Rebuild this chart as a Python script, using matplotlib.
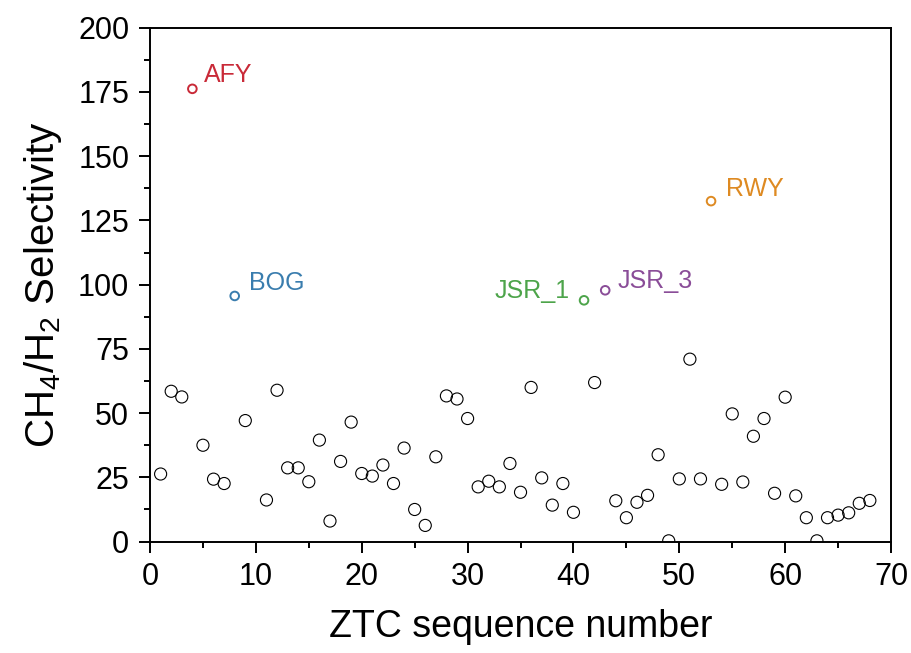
import matplotlib
matplotlib.use('Agg')
import matplotlib.pyplot as plt

plt.rcParams['font.family'] = ['Liberation Sans', 'DejaVu Sans']
plt.rcParams['mathtext.fontset'] = 'custom'
plt.rcParams['mathtext.rm'] = 'Liberation Sans'
plt.rcParams['mathtext.it'] = 'Liberation Sans'

# ── data ──────────────────────────────────────────────────────────
seq = [1, 2, 3, 5, 6, 7, 9, 11, 12, 13, 14, 15, 16, 17, 18, 19, 20,
       21, 22, 23, 24, 25, 26, 27, 28, 29, 30, 31, 32, 33, 34, 35, 36,
       37, 38, 39, 40, 42, 44, 45, 46, 47, 48, 49, 50, 51, 52, 54, 55,
       56, 57, 58, 59, 60, 61, 62, 63, 64, 65, 66, 67, 68]
selectivity = [26.3, 58.5, 56.3, 37.5, 24.3, 22.6, 47.1, 16.2, 58.9, 28.7,
               28.7, 23.3, 39.5, 8.0, 31.2, 46.5, 26.5, 25.5, 29.8, 22.6,
               36.4, 12.5, 6.3, 33.0, 56.7, 55.5, 47.9, 21.3, 23.5, 21.3,
               30.4, 19.2, 60.0, 24.8, 14.2, 22.6, 11.4, 61.9, 15.9, 9.3,
               15.3, 18.0, 33.8, 0.3, 24.4, 71.0, 24.4, 22.3, 49.7, 23.2,
               41.0, 47.9, 18.8, 56.2, 17.8, 9.3, 0.3, 9.3, 10.3, 11.2,
               14.9, 16.0]

hl_names = ['AFY', 'BOG', 'JSR_1', 'JSR_3', 'RWY']
hl_seq = [4, 8, 41, 43, 53]
hl_sel = [176.2, 95.6, 93.9, 97.8, 132.5]
hl_colors = ['#C92A38', '#3A7DAE', '#4DA44A', '#8A4D98', '#DE8A22']
# label offsets (points) and alignment
hl_offsets = [(8, 5), (10, 4), (-10, 2), (9, 2), (11, 4)]
hl_ha = ['left', 'left', 'right', 'left', 'left']

# ── figure ────────────────────────────────────────────────────────
fig = plt.figure(figsize=(9.12, 6.53), dpi=100)
ax = fig.add_axes([0.1645, 0.1706, 0.8125, 0.787])

ax.scatter(seq, selectivity, s=8.7 ** 2, facecolors='none',
           edgecolors='black', linewidths=0.8, zorder=3)

for name, x, y, c, off, ha in zip(hl_names, hl_seq, hl_sel, hl_colors,
                                  hl_offsets, hl_ha):
    ax.scatter([x], [y], s=6.2 ** 2, facecolors='none', edgecolors=c,
               linewidths=1.4, zorder=4)
    ax.annotate(name, (x, y), xytext=off, textcoords='offset points',
                ha=ha, va='baseline', color=c, fontsize=18)

ax.set_xlim(0, 70)
ax.set_ylim(0, 200)
ax.set_xticks(range(0, 71, 10))
ax.set_xticks(range(5, 70, 10), minor=True)
ax.set_yticks(range(0, 201, 25))
ax.set_yticks([12.5 + 25 * i for i in range(8)], minor=True)

for side in ['top', 'right', 'bottom', 'left']:
    ax.spines[side].set_linewidth(1.4)

ax.tick_params(axis='both', which='major', direction='out', width=1.4,
               length=8, pad=7, labelsize=22)
ax.tick_params(axis='both', which='minor', direction='out', width=1.4,
               length=4.5)

ax.set_xlabel('ZTC sequence number', fontsize=27, labelpad=12)
ax.set_ylabel('CH$_4$/H$_2$ Selectivity', fontsize=29, labelpad=10)

fig.savefig('out.png', dpi=100)
plt.close(fig)
